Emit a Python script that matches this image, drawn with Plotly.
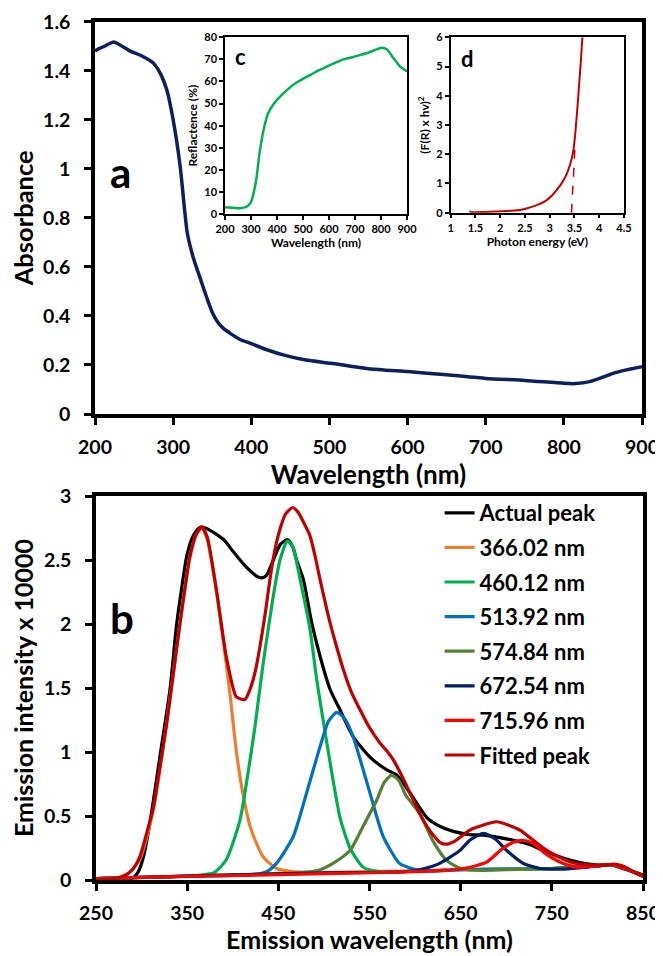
import plotly.graph_objects as go

FONT = "Lato"
W, H = 655, 948

# ---------------- Panel a: absorbance ----------------
wl_a = [200, 205, 212, 218, 224, 232, 245, 260, 275, 285, 292, 300, 309, 318, 326, 335,
        343, 350, 357, 365, 373, 385, 399, 420, 442, 470, 502, 550, 600, 650, 700, 750, 800,
        815, 833, 850, 863, 880, 900]
abs_a = [1.48, 1.49, 1.50, 1.51, 1.517, 1.505, 1.48, 1.46, 1.43, 1.38, 1.32, 1.20, 1.01,
         0.74, 0.635, 0.55, 0.475, 0.415, 0.375, 0.347, 0.329, 0.305, 0.288, 0.262, 0.24, 0.22,
         0.207, 0.185, 0.173, 0.16, 0.145, 0.137, 0.125, 0.124, 0.132, 0.15, 0.166, 0.18, 0.193]

# ---------------- Inset c: reflectance ----------------
wl_c = [200, 230, 258, 283, 295, 303, 312, 322, 331, 341, 352, 366, 385, 411, 440, 468, 500,
        529, 560, 591, 625, 655, 690, 720, 750, 784, 803, 822, 835, 848, 862, 874, 888, 900]
refl_c = [3.0, 2.8, 2.6, 3.3, 4.5, 6.3, 10.5, 17, 26, 33.5, 40, 45.6, 49.5, 53, 56.3, 59, 61.2,
          63, 65, 66.7, 68.5, 70, 71, 72, 73, 74.5, 75.3, 74.6, 72.8, 70.5, 68.5, 66.7, 65.5, 64.5]

# ---------------- Inset d: Tauc plot ----------------
E_d = [1.38, 1.42, 1.6, 1.8, 2.06, 2.2, 2.40, 2.55, 2.74, 2.85, 2.94, 3.04, 3.14, 3.22, 3.30,
       3.36, 3.42, 3.47, 3.51, 3.55, 3.59, 3.625, 3.66]
F_d = [0.05, 0.02, 0.02, 0.03, 0.05, 0.065, 0.09, 0.15, 0.26, 0.34, 0.43, 0.58, 0.78, 0.95,
       1.18, 1.4, 1.7, 2.05, 2.6, 3.4, 4.3, 5.1, 6.0]
E_fit = [3.44, 3.515]
F_fit = [0.0, 2.4]

# ---------------- Panel b: emission ----------------
actual_x = [250, 270, 285, 290, 296, 302, 309, 320, 331, 338.5, 345, 349.5, 356, 363, 370, 380,
            390, 400, 411.6, 420, 427, 431.7, 437, 444.5, 452, 460, 466, 470, 477.4, 486.6,
            495.7, 506.7, 517.6, 532, 550.5, 569, 580, 594.4, 612.7, 627, 642, 660, 675, 690,
            707.7, 725, 740.6, 755, 770, 785, 800, 815, 830, 840, 850]
actual_y = [0.0, 0.003, 0.01, 0.015, 0.06, 0.18, 0.44, 0.96, 1.48, 2.0, 2.33, 2.53, 2.68, 2.75,
            2.75, 2.71, 2.66, 2.57, 2.47, 2.41, 2.37, 2.36, 2.38, 2.5, 2.62, 2.66, 2.6, 2.5, 2.35,
            2.01, 1.75, 1.49, 1.33, 1.12, 0.96, 0.86, 0.82, 0.68, 0.49, 0.42, 0.38, 0.355, 0.35,
            0.335, 0.31, 0.28, 0.23, 0.19, 0.156, 0.13, 0.117, 0.117, 0.085, 0.065, 0.04]

p366_x = [250, 270, 285, 298, 313, 327, 342, 353, 360, 366, 372, 380, 390, 397, 404, 410, 419,
          427, 433.5, 448, 466, 500, 550, 600, 650, 700, 750, 800, 815, 830, 850]
p366_y = [0.0, 0.01, 0.05, 0.16, 0.55, 1.2, 2.0, 2.52, 2.70, 2.75, 2.66, 2.35, 1.85, 1.45, 1.0,
          0.72, 0.42, 0.27, 0.18, 0.09, 0.065, 0.06, 0.065, 0.07, 0.08, 0.085, 0.09, 0.11, 0.12,
          0.09, 0.03]

p460_x = [250, 300, 350, 380, 393, 408, 419, 424.4, 433.5, 444.5, 451.8, 460, 466, 473.8, 484.7,
          492, 497.5, 506.7, 517.6, 528.6, 543, 561.5, 600, 650, 700, 750, 800, 815, 830, 850]
p460_y = [0.01, 0.02, 0.03, 0.06, 0.16, 0.47, 0.94, 1.2, 1.70, 2.22, 2.5, 2.65, 2.6, 2.35, 1.96,
          1.57, 1.32, 0.92, 0.49, 0.25, 0.10, 0.065, 0.07, 0.08, 0.085, 0.09, 0.11, 0.12, 0.09, 0.03]

p514_x = [250, 350, 420, 437, 448, 466.4, 481, 495.7, 505, 514, 523, 532, 550.5, 565, 583, 601.7,
          620, 650, 700, 750, 800, 815, 830, 850]
p514_y = [0.01, 0.03, 0.04, 0.065, 0.13, 0.34, 0.68, 1.04, 1.24, 1.31, 1.26, 1.12, 0.68, 0.34,
          0.13, 0.08, 0.07, 0.08, 0.085, 0.09, 0.11, 0.12, 0.09, 0.03]

p575_x = [250, 350, 450, 480, 495.7, 510, 528.6, 543, 558, 566, 574, 582, 590, 605, 620, 635,
          650, 670, 700, 750, 800, 815, 830, 850]
p575_y = [0.01, 0.03, 0.05, 0.06, 0.08, 0.13, 0.23, 0.42, 0.625, 0.76, 0.82, 0.78, 0.66, 0.52,
          0.3, 0.15, 0.09, 0.075, 0.08, 0.09, 0.11, 0.12, 0.09, 0.03]

p673_x = [250, 400, 500, 560, 590, 605, 627, 649, 660, 674.8, 688, 700.5, 718.7, 737, 760, 780,
          800, 815, 830, 850]
p673_y = [0.01, 0.04, 0.055, 0.06, 0.065, 0.08, 0.13, 0.23, 0.31, 0.365, 0.32, 0.23, 0.13, 0.09,
          0.085, 0.095, 0.11, 0.12, 0.09, 0.03]

p716_x = [250, 300, 400, 500, 600, 630, 653, 666, 678.5, 696.7, 708, 718.7, 730, 740.6, 759, 777,
          800, 815, 830, 850]
p716_y = [0.01, 0.02, 0.035, 0.05, 0.065, 0.075, 0.09, 0.11, 0.14, 0.25, 0.295, 0.31, 0.285, 0.22,
          0.14, 0.10, 0.11, 0.12, 0.09, 0.03]

fitted_x = [250, 265, 280, 290, 298, 305, 313, 320, 327.5, 335, 342, 348, 353, 360, 366, 372, 382,
            393, 404, 413.4, 419, 425, 430, 436, 440.8, 446, 451.8, 458, 465.7, 472, 478, 484.7,
            490, 495.7, 501, 506.7, 514, 521, 530, 539.6, 550, 561.5, 570, 576, 585, 594.4, 605,
            613, 620, 628, 635, 645, 660, 675, 689.5, 702, 715, 728, 740.6, 755, 770, 785, 800,
            810, 817, 828, 840, 850]
fitted_y = [0.0, 0.005, 0.03, 0.08, 0.18, 0.35, 0.57, 0.88, 1.22, 1.62, 2.0, 2.3, 2.53, 2.70, 2.76,
            2.68, 2.27, 1.74, 1.43, 1.41, 1.49, 1.64, 1.83, 2.1, 2.35, 2.57, 2.74, 2.86, 2.91, 2.87,
            2.79, 2.69, 2.54, 2.35, 2.18, 2.01, 1.82, 1.65, 1.47, 1.33, 1.19, 1.07, 1.0, 0.94, 0.82,
            0.68, 0.52, 0.42, 0.35, 0.29, 0.28, 0.31, 0.39, 0.43, 0.455, 0.43, 0.39, 0.32, 0.25,
            0.19, 0.14, 0.12, 0.117, 0.117, 0.125, 0.11, 0.065, 0.035]

series_b = [
    ("Actual peak", actual_x, actual_y, "#000000"),
    ("366.02 nm", p366_x, p366_y, "#ED7D31"),
    ("460.12 nm", p460_x, p460_y, "#00B050"),
    ("513.92 nm", p514_x, p514_y, "#0070C0"),
    ("574.84 nm", p575_x, p575_y, "#548235"),
    ("672.54 nm", p673_x, p673_y, "#002060"),
    ("715.96 nm", p716_x, p716_y, "#FF0000"),
    ("Fitted peak", fitted_x, fitted_y, "#C00000"),
]


def dom_x(a, b):
    return [a / W, b / W]


def dom_y(top, bottom):
    return [1 - bottom / H, 1 - top / H]


fig = go.Figure()

fig.add_trace(go.Scatter(x=wl_a, y=abs_a, mode="lines", xaxis="x", yaxis="y",
                         line=dict(color="#0E1F5E", width=3.5, shape="spline", smoothing=0.6),
                         showlegend=False, hoverinfo="skip"))
fig.add_trace(go.Scatter(x=wl_c, y=refl_c, mode="lines", xaxis="x3", yaxis="y3",
                         line=dict(color="#00B050", width=2.5, shape="spline", smoothing=0.6),
                         showlegend=False, hoverinfo="skip"))
fig.add_trace(go.Scatter(x=E_d, y=F_d, mode="lines", xaxis="x4", yaxis="y4",
                         line=dict(color="#C00000", width=2, shape="spline", smoothing=0.6),
                         showlegend=False, hoverinfo="skip"))
fig.add_trace(go.Scatter(x=E_fit, y=F_fit, mode="lines", xaxis="x4", yaxis="y4",
                         line=dict(color="#C00000", width=1.5, dash="dash"),
                         showlegend=False, hoverinfo="skip"))

for i, (name, xs, ys, col) in enumerate(series_b):
    fig.add_trace(go.Scatter(x=xs, y=ys, mode="lines", name=name, xaxis="x2", yaxis="y2",
                             legendgroup="g%d" % i,
                             line=dict(color=col, width=3.2, shape="spline", smoothing=0.6)))

big_tick = dict(family=FONT, size=19.5, color="black", weight="bold")
small_tick = dict(family=FONT, size=11, color="black", weight="bold")


def main_axis(**kw):
    d = dict(showgrid=False, zeroline=False, showline=True, linecolor="black", linewidth=3.5,
             mirror=True, ticks="outside", ticklen=7, tickwidth=3, tickcolor="black",
             tickfont=big_tick, automargin=False)
    d.update(kw)
    return d


def inset_axis(**kw):
    d = dict(showgrid=False, zeroline=False, showline=True, linecolor="black", linewidth=1.5,
             mirror=True, ticks="outside", ticklen=4, tickwidth=1.5, tickcolor="black",
             tickfont=small_tick, automargin=False)
    d.update(kw)
    return d


fig.update_layout(
    width=W, height=H,
    margin=dict(l=0, r=0, t=0, b=0),
    paper_bgcolor="white", plot_bgcolor="white",
    font=dict(family=FONT, color="black"),
    xaxis=main_axis(domain=dom_x(87, 634), range=[200, 900], tick0=200, dtick=100, anchor="y",
                    ticklabelstandoff=6,
                    title=dict(text="Wavelength (nm)", standoff=8,
                               font=dict(family=FONT, size=26, weight="bold"))),
    yaxis=main_axis(domain=dom_y(13.7, 406), range=[0, 1.6], tick0=0, dtick=0.2, anchor="x",
                    ticklabelstandoff=10,
                    title=dict(text="Absorbance", standoff=11,
                               font=dict(family=FONT, size=25.5, weight="bold"))),
    xaxis2=main_axis(domain=dom_x(88, 635), range=[250, 850], tick0=250, dtick=100, anchor="y2",
                     ticklabelstandoff=6,
                     title=dict(text="Emission wavelength (nm)", standoff=4,
                                font=dict(family=FONT, size=25, weight="bold"))),
    yaxis2=main_axis(domain=dom_y(488, 872), range=[0, 3], tick0=0, dtick=0.5, anchor="x2",
                     ticklabelstandoff=10,
                     title=dict(text="Emission intensity x 10000", standoff=8,
                                font=dict(family=FONT, size=25, weight="bold"))),
    xaxis3=inset_axis(domain=dom_x(217, 399), range=[200, 900], tick0=200, dtick=100, anchor="y3",
                      title=dict(text="Wavelength (nm)", standoff=2,
                                 font=dict(family=FONT, size=12, weight="bold"))),
    yaxis3=inset_axis(domain=dom_y(29.3, 206), range=[0, 80], tick0=0, dtick=10, anchor="x3",
                      title=dict(text="Reflactence (%)", standoff=4,
                                 font=dict(family=FONT, size=12, weight="bold"))),
    xaxis4=inset_axis(domain=dom_x(442.7, 616), range=[1, 4.5], tick0=1, dtick=0.5, anchor="y4",
                      title=dict(text="Photon energy (eV)", standoff=2,
                                 font=dict(family=FONT, size=12, weight="bold"))),
    yaxis4=inset_axis(domain=dom_y(29.3, 204.7), range=[0, 6], tick0=0, dtick=1, anchor="x4",
                      title=dict(text="(F(R) x hv)<sup>2</sup>", standoff=4,
                                 font=dict(family=FONT, size=12, weight="bold"))),
    legend=dict(x=431.6 / W, y=1 - 484 / H, xanchor="left", yanchor="top",
                bgcolor="rgba(0,0,0,0)",
                font=dict(family=FONT, size=22, color="black", weight="bold"),
                itemwidth=30, tracegroupgap=3, traceorder="grouped"),
    showlegend=True,
)

labels = [("a", 113, 164, 42), ("b", 114, 610, 42), ("c", 232, 49, 22), ("d", 460, 51, 22)]
for t, px, py, sz in labels:
    fig.add_annotation(text=t, x=px / W, y=1 - py / H, xref="paper", yref="paper",
                       showarrow=False, xanchor="center", yanchor="middle",
                       font=dict(family=FONT, size=sz, color="black", weight="bold"))

fig.write_html("out.html")
